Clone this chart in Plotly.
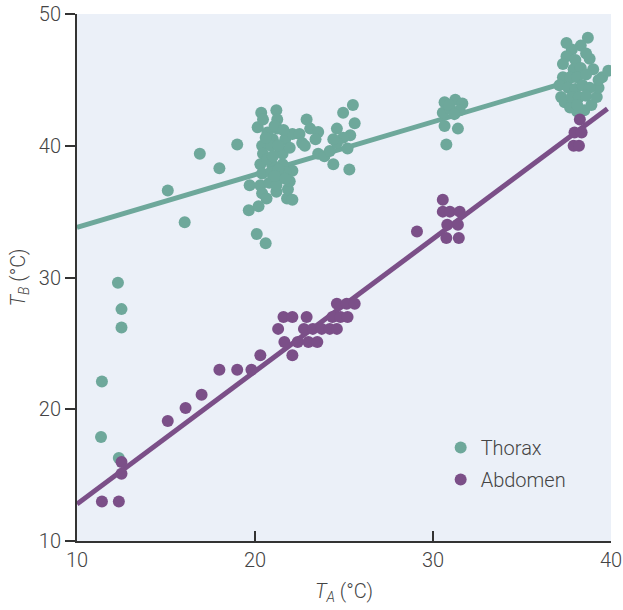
import plotly.graph_objects as go

# ---- data ----
thorax_x = [11.4, 11.35, 12.3, 12.5, 12.5, 12.35, 15.1, 16.05, 16.9, 18.0, 19.0, 19.65, 20.1, 20.6,
            20.35, 21.2, 20.15, 20.45, 21.25, 21.25, 20.4, 20.45, 20.3, 20.4, 19.7, 20.3, 20.4, 20.65,
            20.2, 21.2, 21.8, 22.1, 21.85, 21.95, 22.1, 21.4, 20.95, 21.55, 21.4, 21.0, 21.7, 21.55,
            21.95, 22.1, 22.5, 22.65, 22.8, 22.9, 23.1, 23.55, 23.4, 23.55, 23.9, 24.2, 24.4, 24.6,
            24.95, 25.5, 25.6, 25.35, 24.95, 24.6, 24.4, 25.2, 25.3,
            20.7, 20.9, 20.7, 20.9, 20.8, 21.2, 21.1, 21.6, 21.3, 21.0, 21.7, 21.3, 20.6, 21.1, 21.7,
            30.65, 31.25, 31.65, 30.55, 30.95, 31.5, 30.65, 31.4, 30.75, 30.9, 31.2,
            38.7, 38.3, 37.8, 37.5, 37.3, 37.3, 37.1, 37.2, 37.4, 37.7, 38.1, 38.5, 38.9, 39.2, 39.3,
            39.5, 39.85, 39.3, 39.0, 38.8, 38.6, 38.0, 37.9, 38.3, 37.7, 38.1, 38.6, 37.6, 38.0, 38.4,
            38.8, 37.8, 38.2, 38.6, 38.1, 37.5]
thorax_y = [22.1, 17.9, 29.6, 27.6, 26.2, 16.3, 36.6, 34.2, 39.4, 38.3, 40.1, 35.1, 33.3, 32.6,
            42.5, 42.7, 41.4, 42.0, 42.0, 41.3, 40.0, 39.4, 38.6, 37.9, 37.0, 37.0, 36.4, 36.0,
            35.4, 36.5, 36.0, 35.9, 36.7, 37.3, 38.1, 37.7, 38.6, 38.6, 39.8, 40.5, 40.5, 39.4,
            39.85, 40.9, 40.9, 40.2, 40.0, 42.0, 41.3, 41.05, 40.5, 39.4, 39.2, 39.6, 38.6, 41.3,
            42.5, 43.1, 41.7, 40.8, 40.6, 40.2, 40.5, 39.8, 38.2,
            41.0, 40.0, 39.0, 38.0, 37.2, 37.0, 41.5, 41.2, 40.0, 39.2, 38.0, 38.2, 40.6, 37.7, 37.5,
            43.3, 43.5, 43.2, 42.5, 42.8, 42.7, 41.5, 41.3, 40.1, 43.1, 42.4,
            48.2, 47.6, 47.3, 46.8, 46.2, 45.2, 44.6, 43.7, 43.3, 42.9, 42.6, 42.7, 43.1, 43.7, 44.4,
            45.2, 45.7, 45.0, 45.8, 46.6, 47.0, 46.5, 45.8, 45.9, 45.2, 45.2, 45.4, 44.4, 44.3, 44.6,
            44.4, 43.7, 43.7, 43.8, 43.1, 47.8]

abdomen_x = [11.4, 12.35, 12.5, 12.5, 15.1, 16.1, 17.0, 18.0, 19.0, 19.8, 20.3, 21.3, 21.6, 22.1,
             22.9, 21.65, 22.1, 22.4, 23.0, 23.5, 22.75, 23.25, 23.75, 24.2, 24.6, 24.35, 24.8, 25.2,
             24.6, 25.15, 25.6, 29.1, 30.55, 30.55, 30.95, 31.5, 30.8, 31.4, 30.75, 31.45,
             38.25, 37.95, 38.35, 37.9, 38.2]
abdomen_y = [13.0, 13.0, 16.0, 15.1, 19.1, 20.1, 21.1, 23.0, 23.0, 23.0, 24.1, 26.1, 27.0, 27.0,
             27.0, 25.1, 24.1, 25.1, 25.1, 25.1, 26.1, 26.1, 26.1, 26.1, 26.1, 27.0, 27.0, 27.0,
             28.0, 28.0, 28.0, 33.5, 35.9, 35.0, 35.0, 35.0, 34.0, 34.0, 33.0, 33.0,
             42.0, 41.0, 41.0, 40.0, 40.0]

thorax_fit_x = [10, 38.2]
thorax_fit_y = [33.8, 45.1]
abdomen_fit_x = [10, 39.8]
abdomen_fit_y = [12.8, 42.8]

series_names = ["Thorax", "Abdomen"]
x_ticks = [10, 20, 30, 40]
y_ticks = [10, 20, 30, 40, 50]

# ---- styles ----
C_TH = "#6ea89b"
C_AB = "#7b4f88"
TXT = "#444444"
AX = "#333333"
FONT = "Roboto"
FS = 20

fig = go.Figure()
fig.add_trace(go.Scatter(x=thorax_fit_x, y=thorax_fit_y, mode="lines",
                         line=dict(color=C_TH, width=5), showlegend=False, hoverinfo="skip"))
fig.add_trace(go.Scatter(x=thorax_x, y=thorax_y, mode="markers", name=series_names[0],
                         legendgroup="th",
                         marker=dict(color=C_TH, size=12, line=dict(width=0))))
fig.add_trace(go.Scatter(x=abdomen_fit_x, y=abdomen_fit_y, mode="lines",
                         line=dict(color=C_AB, width=5), showlegend=False, hoverinfo="skip"))
fig.add_trace(go.Scatter(x=abdomen_x, y=abdomen_y, mode="markers", name=series_names[1],
                         legendgroup="ab",
                         marker=dict(color=C_AB, size=12, line=dict(width=0))))

fig.update_layout(
    width=623, height=610,
    margin=dict(l=77, r=12, t=14, b=69),
    paper_bgcolor="white",
    plot_bgcolor="#ebf0f8",
    font=dict(family=FONT, size=FS, color=TXT, weight=300),
    legend=dict(x=0.681, y=0.2145, xanchor="left", yanchor="top",
                bgcolor="rgba(0,0,0,0)", font=dict(size=FS, color=TXT),
                itemsizing="constant", tracegroupgap=3),
    xaxis=dict(range=[10, 40], tickvals=x_ticks, showgrid=False, zeroline=False,
               automargin=False,
               showline=True, linecolor=AX, linewidth=2, ticks="inside", ticklen=10,
               tickcolor=AX, tickwidth=1.5,
               tickfont=dict(size=FS, color=TXT),
               title=dict(text="<i>T<sub>A</sub></i> (°C)", font=dict(size=FS, color=TXT), standoff=13)),
    yaxis=dict(range=[10, 50], tickvals=y_ticks, showgrid=False, zeroline=False,
               automargin=False,
               showline=True, linecolor=AX, linewidth=2, ticks="outside", ticklen=10,
               tickcolor=AX, tickwidth=1.5,
               tickfont=dict(size=FS, color=TXT),
               title=dict(text="<i>T<sub>B</sub></i> (°C)", font=dict(size=FS, color=TXT), standoff=8)),
)

fig.write_html("out.html")
